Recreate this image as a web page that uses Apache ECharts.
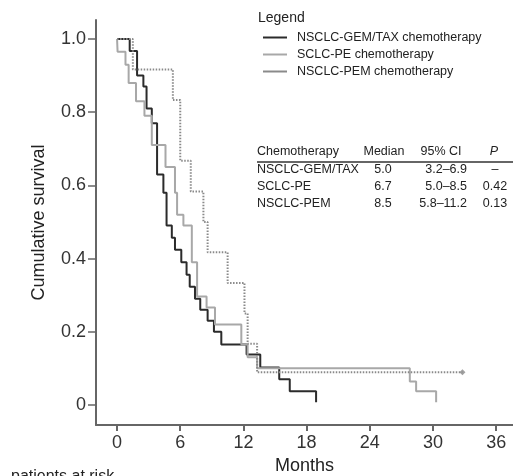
<!DOCTYPE html>
<html>
<head>
<meta charset="utf-8">
<script src="https://cdn.jsdelivr.net/npm/echarts@6/dist/echarts.min.js"></script>
<style>
  html, body { margin: 0; padding: 0; background: #fff; }
  #chart { width: 513px; height: 476px; }
</style>
</head>
<body>
<div id="chart"></div>
<script>
// Kaplan-Meier steps: [month, survival]
const gemTax = [[0, 1], [1.2, 0.967], [1.9, 0.9], [2.5, 0.87], [2.8, 0.81], [3.3, 0.77], [3.8, 0.63],
  [4.4, 0.58], [4.7, 0.49], [5.2, 0.457], [5.5, 0.424], [6.1, 0.39], [6.6, 0.356], [6.9, 0.323], [7.4, 0.29],
  [7.9, 0.26], [8.6, 0.23], [9.2, 0.2], [9.9, 0.165], [12.3, 0.138], [13.6, 0.102], [15.4, 0.07],
  [16.4, 0.037], [18.9, 0.007]];
const sclcPe = [[0, 1], [0.05, 0.965], [0.8, 0.93], [1.1, 0.88], [1.8, 0.83], [2.6, 0.79], [3.3, 0.71],
  [4.6, 0.65], [5.5, 0.58], [5.7, 0.52], [6.3, 0.49], [7.1, 0.39], [7.6, 0.296], [8.5, 0.266],
  [9.3, 0.22], [11.8, 0.165], [12.4, 0.13], [13.3, 0.1], [27.8, 0.064], [28.4, 0.037], [30.3, 0.007]];
const pem = [[0, 1], [1.5, 0.917], [5.3, 0.833], [6.0, 0.667], [7.0, 0.583], [8.2, 0.5], [8.6, 0.417],
  [10.5, 0.333], [12.1, 0.25], [12.4, 0.167], [13.3, 0.089], [32.8, 0.089]];
const censored = [[32.8, 0.089]];

const seriesNames = ['NSCLC-GEM/TAX chemotherapy', 'SCLC-PE chemotherapy', 'NSCLC-PEM chemotherapy'];
const xTicks = [0, 6, 12, 18, 24, 30, 36];
const yTicks = [0, 0.2, 0.4, 0.6, 0.8, 1.0];

const tableHeader = ['Chemotherapy', 'Median', '95% CI', 'P'];
const tableGroups = ['NSCLC-GEM/TAX', 'SCLC-PE', 'NSCLC-PEM'];
const tableMedians = ['5.0', '6.7', '8.5'];
const tableCI = ['3.2–6.9', '5.0–8.5', '5.8–11.2'];
const tablePvals = ['–', '0.42', '0.13'];

const chart = echarts.init(document.getElementById('chart'));
const font = 'Liberation Sans, Arial, sans-serif';
const tf = '12.5px ' + font;

// table drawn as text next to the plot
const tableEls = [];
const hdrY = 152, rowY = [170, 187, 204];
const txt = (s, x, y, align, f) => ({
  type: 'text', x: x, y: y,
  style: { text: s, font: f || tf, fill: '#222', textAlign: align, textVerticalAlign: 'middle' }
});
tableEls.push(txt(tableHeader[0], 257, hdrY, 'left'));
tableEls.push(txt(tableHeader[1], 384, hdrY, 'center'));
tableEls.push(txt(tableHeader[2], 441, hdrY, 'center'));
tableEls.push(txt(tableHeader[3], 494, hdrY, 'center', 'italic ' + tf));
tableEls.push({ type: 'line', shape: { x1: 257, y1: 162, x2: 513, y2: 162 }, style: { stroke: '#666', lineWidth: 2 } });
tableGroups.forEach((g, r) => {
  const y = rowY[r];
  tableEls.push(txt(g, 257, y, 'left'));
  tableEls.push(txt(tableMedians[r], 383, y, 'center'));
  tableEls.push(txt(tableCI[r], 467, y, 'right'));
  tableEls.push(txt(tablePvals[r], 495, y, 'center'));
});

chart.setOption({
  animation: false,
  backgroundColor: '#fff',
  grid: { left: 96, right: 0, top: 20, bottom: 51, outerBoundsMode: 'none' },
  legend: {
    left: 258, top: 26, orient: 'vertical', itemGap: 4,
    itemWidth: 24, itemHeight: 2, icon: 'rect',
    textStyle: { fontFamily: font, fontSize: 12.5, color: '#222', padding: [0, 0, 0, 5] },
    data: seriesNames
  },
  xAxis: {
    type: 'value', min: -2, max: 37.6,
    name: 'Months', nameLocation: 'middle', nameGap: 23,
    nameTextStyle: { fontFamily: font, fontSize: 18, color: '#222' },
    axisLine: { show: true, onZero: false, lineStyle: { color: '#666', width: 2 } },
    axisTick: { show: true, length: 6, lineStyle: { color: '#666', width: 2 }, customValues: xTicks },
    axisLabel: { fontFamily: font, fontSize: 18, color: '#333', margin: 9, customValues: xTicks },
    splitLine: { show: false }
  },
  yAxis: {
    type: 'value', min: -0.055, max: 1.052,
    name: 'Cumulative survival', nameLocation: 'middle', nameGap: 48,
    nameTextStyle: { fontFamily: font, fontSize: 18, color: '#222' },
    axisLine: { show: true, onZero: false, lineStyle: { color: '#666', width: 2 } },
    axisTick: { show: true, length: 8, lineStyle: { color: '#666', width: 1.5 }, customValues: yTicks },
    axisLabel: {
      fontFamily: font, fontSize: 18, color: '#333', margin: 10, customValues: yTicks,
      formatter: v => (v === 0 ? '0' : v.toFixed(1))
    },
    splitLine: { show: false }
  },
  graphic: [
    { type: 'text', left: 258, top: 11, style: { text: 'Legend', font: '14px ' + font, fill: '#222' } },
    { type: 'text', left: 11, top: 469, style: { text: 'patients at risk', font: '16px ' + font, fill: '#222' } }
  ].concat(tableEls),
  series: [
    { name: seriesNames[0], type: 'line', step: 'end', showSymbol: false, data: gemTax,
      itemStyle: { color: '#2b2b2b' }, lineStyle: { color: '#2b2b2b', width: 2 } },
    { name: seriesNames[1], type: 'line', step: 'end', showSymbol: false, data: sclcPe,
      itemStyle: { color: '#a8a8a8' }, lineStyle: { color: '#a8a8a8', width: 2 } },
    { name: seriesNames[2], type: 'line', step: 'end', showSymbol: false, data: pem,
      itemStyle: { color: '#8a8a8a' }, lineStyle: { color: '#8a8a8a', width: 2, type: [1.5, 1.5] } },
    { type: 'scatter', data: censored, symbol: 'diamond', symbolSize: 6,
      itemStyle: { color: '#8a8a8a' }, silent: true }
  ]
});
</script>
</body>
</html>
